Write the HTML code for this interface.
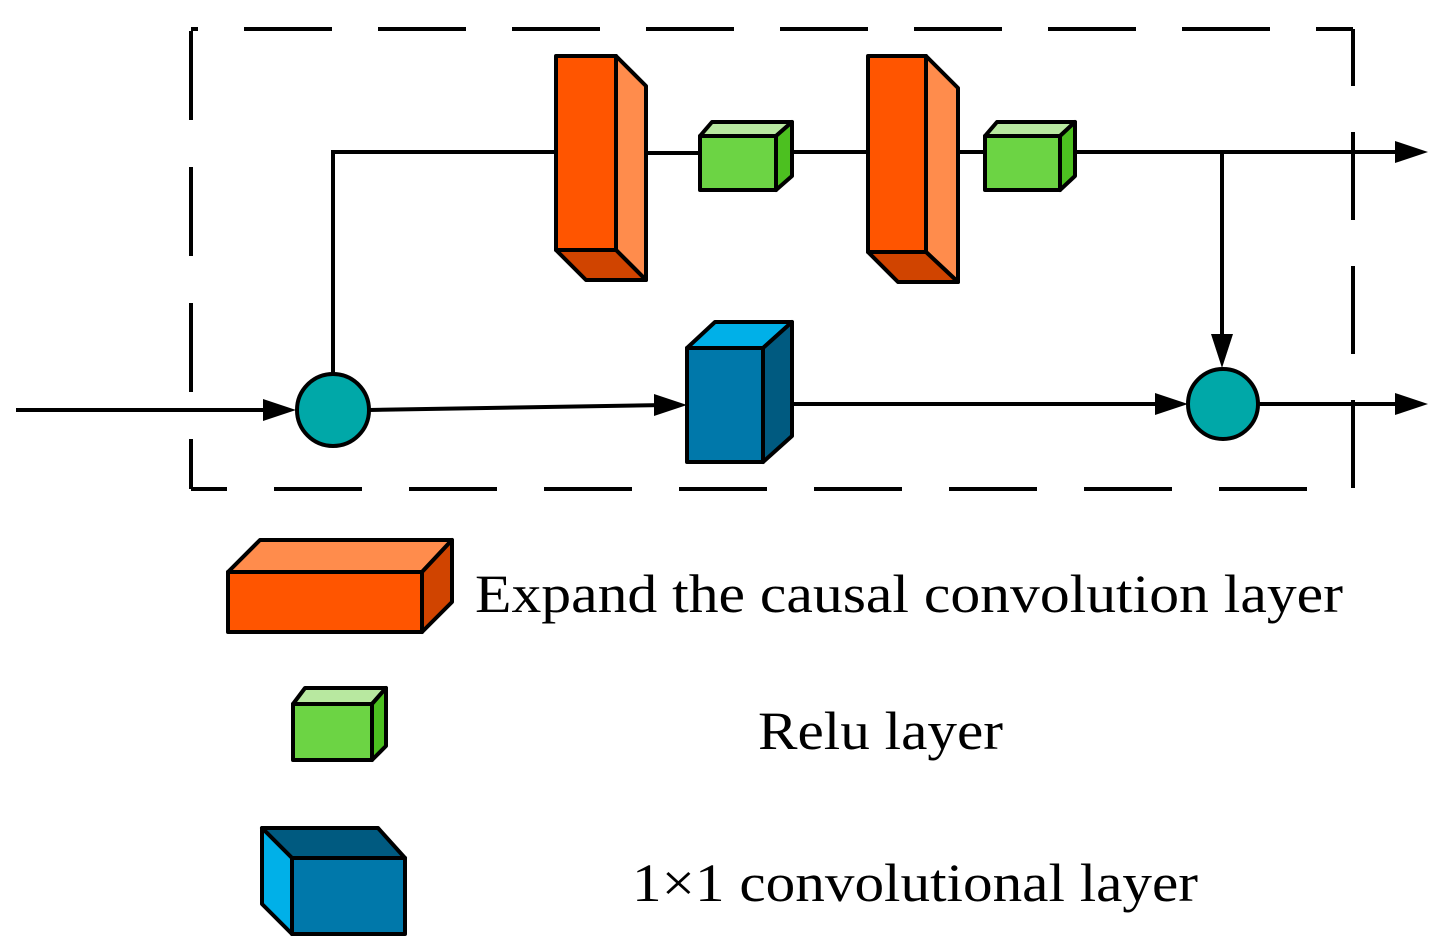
<!DOCTYPE html>
<html><head><meta charset="utf-8"><style>
html,body{margin:0;padding:0;background:#fff;}
svg{display:block;}
text{font-family:"Liberation Serif",serif;fill:#000;}
</style></head><body>
<svg width="1451" height="950" viewBox="0 0 1451 950" xmlns="http://www.w3.org/2000/svg">
<g stroke="#000" stroke-width="4" fill="none">
<path d="M191 29 H1353" stroke-dasharray="88 46" stroke-dashoffset="81"/>
<path d="M1353 29 V489" stroke-dasharray="88 46" stroke-dashoffset="31"/>
<path d="M191 29 V489" stroke-dasharray="89 47" stroke-dashoffset="-2"/>
<path d="M191 489 H1353" stroke-dasharray="88 47" stroke-dashoffset="52"/>
<path d="M16 410 H276"/>
<path d="M333 374 V152 H556"/>
<path d="M646 153 H700"/>
<path d="M792 152 H868"/>
<path d="M958 152 H985"/>
<path d="M1075 152 H1400"/>
<path d="M1222 152 V340"/>
<path d="M369 410 L666 405"/>
<path d="M792 404 H1166"/>
<path d="M1258 404 H1400"/>
</g>
<g fill="#000">
<polygon points="296,410 263,399 263,421"/>
<polygon points="687,405 654,394 654,416"/>
<polygon points="1188,404 1155,393 1155,415"/>
<polygon points="1428,152 1395,141 1395,163"/>
<polygon points="1428,404 1395,393 1395,415"/>
<polygon points="1222,368 1211,334 1233,334"/>
</g>
<g stroke="#000" stroke-width="4" stroke-linejoin="round">
<polygon points="616,56 646,86 646,280 616,250" fill="#ff8c4c"/>
<polygon points="556,250 586,280 646,280 616,250" fill="#d04400"/>
<rect x="556" y="56" width="60" height="194" fill="#ff5500"/>
<polygon points="926,56 958,88 958,282 926,252" fill="#ff8c4c"/>
<polygon points="868,252 898,282 958,282 926,252" fill="#d04400"/>
<rect x="868" y="56" width="58" height="196" fill="#ff5500"/>
<polygon points="700,136 712,122 792,122 776,136" fill="#b8e8a0"/>
<polygon points="776,136 792,122 792,176 776,190" fill="#4cc020"/>
<rect x="700" y="136" width="76" height="54" fill="#6cd444"/>
<polygon points="985,136 997,122 1075,122 1060,136" fill="#b8e8a0"/>
<polygon points="1060,136 1075,122 1075,176 1060,190" fill="#4cc020"/>
<rect x="985" y="136" width="75" height="54" fill="#6cd444"/>
<polygon points="687,348 715,322 792,322 763,348" fill="#00b0e8"/>
<polygon points="763,348 792,322 792,436 763,462" fill="#005a80"/>
<rect x="687" y="348" width="76" height="114" fill="#0078aa"/>
<circle cx="333" cy="410" r="36" fill="#00a8a8"/>
<circle cx="1223" cy="404" r="35" fill="#00a8a8"/>
<polygon points="228,572 260,540 452,540 422,572" fill="#ff8c4c"/>
<polygon points="422,572 452,540 452,602 422,632" fill="#d04400"/>
<rect x="228" y="572" width="194" height="60" fill="#ff5500"/>
<polygon points="293,704 305,688 386,688 372,704" fill="#b8e8a0"/>
<polygon points="372,704 386,688 386,746 372,760" fill="#4cc020"/>
<rect x="293" y="704" width="79" height="56" fill="#6cd444"/>
<polygon points="262,828 378,828 405,858 292,858" fill="#005a80"/>
<polygon points="262,828 292,858 292,934 262,904" fill="#00b0e8"/>
<rect x="292" y="858" width="113" height="76" fill="#0078aa"/>
</g>
<text x="475" y="612" font-size="54" textLength="868" lengthAdjust="spacingAndGlyphs">Expand the causal convolution layer</text>
<text x="758" y="749" font-size="54" textLength="245" lengthAdjust="spacingAndGlyphs">Relu layer</text>
<text x="632" y="901" font-size="54" textLength="566" lengthAdjust="spacingAndGlyphs">1×1 convolutional layer</text>
</svg>
</body></html>
